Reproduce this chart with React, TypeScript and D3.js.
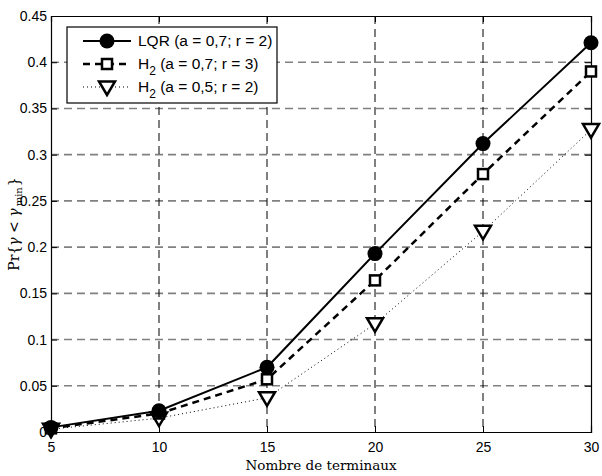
import React, { useRef, useEffect } from 'react';
import * as d3 from 'd3';

const terminals = [5, 10, 15, 20, 25, 30];
const lqrA07R2 = [0.005, 0.023, 0.07, 0.193, 0.312, 0.421];
const h2A07R3 = [0.004, 0.02, 0.057, 0.164, 0.279, 0.39];
const h2A05R2 = [0.003, 0.015, 0.037, 0.117, 0.217, 0.327];
const yTicks = [0, 0.05, 0.1, 0.15, 0.2, 0.25, 0.3, 0.35, 0.4, 0.45];
const xTicks = [5, 10, 15, 20, 25, 30];

const series = [
  { name: 'LQR', params: ' (a = 0,7; r = 2)', values: lqrA07R2, dash: null, width: 2, marker: 'circle' },
  { name: 'H', params: ' (a = 0,7; r = 3)', values: h2A07R3, dash: '7,5', width: 2.5, marker: 'square' },
  { name: 'H', params: ' (a = 0,5; r = 2)', values: h2A05R2, dash: '1,3', width: 1, marker: 'triangle' },
];

function App() {
  const ref = useRef<SVGSVGElement>(null);

  useEffect(() => {
    const svg = d3.select(ref.current);
    svg.selectAll('*').remove();

    const left = 51, right = 591, top = 16, bottom = 432;
    const x = d3.scaleLinear().domain([5, 30]).range([left, right]);
    const y = d3.scaleLinear().domain([0, 0.45]).range([bottom, top]);

    svg.append('rect').attr('width', 602).attr('height', 476).attr('fill', '#fff');

    // grid
    svg.append('g').selectAll('line').data(yTicks.slice(1, -1)).join('line')
      .attr('x1', left).attr('x2', right)
      .attr('y1', d => y(d)).attr('y2', d => y(d))
      .attr('stroke', '#808080').attr('stroke-width', 1.6).attr('stroke-dasharray', '8,5');
    svg.append('g').selectAll('line').data(xTicks.slice(1, -1)).join('line')
      .attr('x1', d => x(d)).attr('x2', d => x(d))
      .attr('y1', top).attr('y2', bottom)
      .attr('stroke', '#000').attr('stroke-width', 1).attr('stroke-dasharray', '8,5');

    // axes
    const axisFont = 'Arial, "Liberation Sans", sans-serif';
    const gx = svg.append('g').attr('transform', `translate(0,${bottom})`)
      .call(d3.axisBottom(x).tickValues(xTicks).tickSize(-6).tickPadding(10).tickFormat(d3.format('d')));
    const gxTop = svg.append('g').attr('transform', `translate(0,${top})`)
      .call(d3.axisTop(x).tickValues(xTicks).tickSize(-6).tickFormat(() => ''));
    const gy = svg.append('g').attr('transform', `translate(${left},0)`)
      .call(d3.axisLeft(y).tickValues(yTicks).tickSize(-6).tickPadding(10).tickFormat(d => String(+d)));
    const gyRight = svg.append('g').attr('transform', `translate(${right},0)`)
      .call(d3.axisRight(y).tickValues(yTicks).tickSize(-6).tickFormat(() => ''));
    [gx, gxTop, gy, gyRight].forEach(g => {
      g.select('.domain').attr('stroke', '#000').attr('stroke-width', 1.2);
      g.selectAll('.tick line').attr('stroke', '#000');
      g.selectAll('.tick text').attr('fill', '#000').style('font-family', axisFont).style('font-size', '14px');
    });
    gy.selectAll('.tick text').attr('dx', 6);

    // lines + markers
    const line = d3.line<number>().x((d, i) => x(terminals[i])).y(d => y(d));
    const drawMarker = (g: any, kind: string, cx: number, cy: number) => {
      if (kind === 'circle') {
        g.append('circle').attr('cx', cx).attr('cy', cy).attr('r', 7.5).attr('fill', '#000');
      } else if (kind === 'square') {
        const h = 5;
        g.append('rect').attr('x', cx - h).attr('y', cy - h).attr('width', 2 * h).attr('height', 2 * h)
          .attr('fill', '#fff').attr('stroke', '#000').attr('stroke-width', 2.5);
      } else {
        const w = 8;
        g.append('path')
          .attr('d', `M${cx - w},${cy - w * 0.7}L${cx + w},${cy - w * 0.7}L${cx},${cy + w}Z`)
          .attr('fill', '#fff').attr('stroke', '#000').attr('stroke-width', 2.5);
      }
    };

    series.slice().reverse().forEach(s => {
      const g = svg.append('g');
      g.append('path').datum(s.values).attr('d', line)
        .attr('fill', 'none').attr('stroke', '#000').attr('stroke-width', s.width)
        .attr('stroke-dasharray', s.dash);
      s.values.forEach((v, i) => drawMarker(g, s.marker, x(terminals[i]), y(v)));
    });

    // legend
    const lg = svg.append('g');
    lg.append('rect').attr('x', 67).attr('y', 27).attr('width', 210).attr('height', 76)
      .attr('fill', '#fff').attr('stroke', '#000').attr('stroke-width', 1.2);
    const rowY = [41, 64, 87];
    series.forEach((s, i) => {
      const yy = rowY[i];
      lg.append('line').attr('x1', 83).attr('x2', 131).attr('y1', yy).attr('y2', yy)
        .attr('stroke', '#000').attr('stroke-width', s.width).attr('stroke-dasharray', s.dash);
      drawMarker(lg, s.marker, 107, yy);
      const t = lg.append('text').attr('x', 138).attr('y', yy + 5)
        .style('font-family', axisFont).style('font-size', '15.5px').attr('fill', '#000');
      t.append('tspan').text(s.name);
      if (s.name === 'H') t.append('tspan').attr('dy', 6).style('font-size', '12px').text('2');
      t.append('tspan').attr('dy', s.name === 'H' ? -6 : 0).text(s.params);
    });

    // axis labels
    const serif = '"DejaVu Serif", "Liberation Serif", serif';
    svg.append('text').attr('x', (left + right) / 2).attr('y', 470).attr('text-anchor', 'middle')
      .style('font-family', serif).style('font-size', '13.5px').attr('fill', '#000')
      .text('Nombre de terminaux');
    const yl = svg.append('text').attr('transform', `translate(19,${(top + bottom) / 2}) rotate(-90)`)
      .attr('text-anchor', 'middle').style('font-family', serif).style('font-size', '14px').attr('fill', '#000');
    yl.append('tspan').text('Pr{');
    yl.append('tspan').style('font-style', 'italic').text('γ');
    yl.append('tspan').text(' < ');
    yl.append('tspan').style('font-style', 'italic').text('γ');
    yl.append('tspan').attr('dy', 3).attr('dx', 2).style('font-size', '10px').text('min');
    yl.append('tspan').attr('dy', -3).attr('dx', 1).text('}');
  }, []);

  return (
    <div style={{ position: 'absolute', left: 0, top: 0 }}>
      <svg ref={ref} width={602} height={476} style={{ display: 'block' }} />
    </div>
  );
}

export default App;
